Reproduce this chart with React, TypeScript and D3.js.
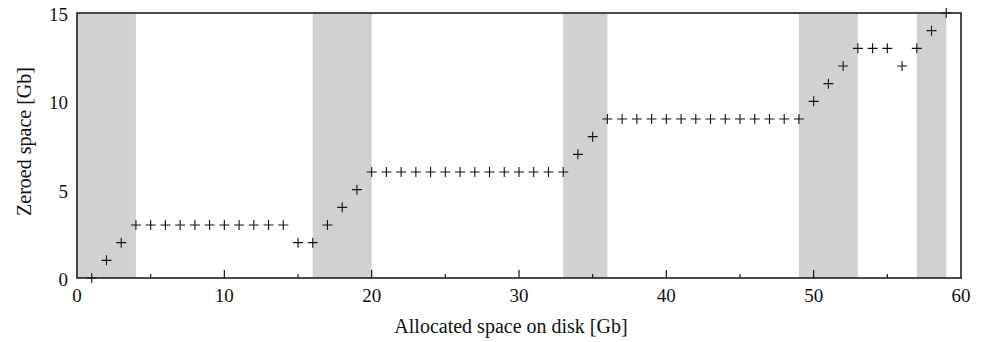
import * as d3 from 'd3';

// allocated space on disk [Gb] and zeroed space [Gb]
const allocated = [
  1, 2, 3, 4, 5, 6, 7, 8, 9, 10, 11, 12, 13, 14, 15, 16, 17, 18, 19, 20,
  21, 22, 23, 24, 25, 26, 27, 28, 29, 30, 31, 32, 33, 34, 35, 36, 37, 38, 39, 40,
  41, 42, 43, 44, 45, 46, 47, 48, 49, 50, 51, 52, 53, 54, 55, 56, 57, 58, 59,
];
const zeroed = [
  0, 1, 2, 3, 3, 3, 3, 3, 3, 3, 3, 3, 3, 3, 2, 2, 3, 4, 5, 6,
  6, 6, 6, 6, 6, 6, 6, 6, 6, 6, 6, 6, 6, 7, 8, 9, 9, 9, 9, 9,
  9, 9, 9, 9, 9, 9, 9, 9, 9, 10, 11, 12, 13, 13, 13, 12, 13, 14, 15,
];

// shaded intervals on the x axis
const bandStarts = [0, 16, 33, 49, 57];
const bandEnds = [4, 20, 36, 53, 59];

const xTicks = [0, 10, 20, 30, 40, 50, 60];
const xMinorTicks = [5, 15, 25, 35, 45, 55];
const yTicks = [0, 5, 10, 15];

const W = 983;
const H = 342;
const margin = { top: 13, right: 22, bottom: 64, left: 77 };

const font = 'Liberation Serif';
const ink = '#111';

const x = d3.scaleLinear().domain([0, 60]).range([margin.left, W - margin.right]);
const y = d3.scaleLinear().domain([0, 15]).range([H - margin.bottom, margin.top]);

const App = () => {
  const [x0, x1] = x.range();
  const [y0, y1] = y.range();
  const s = 5; // half-size of + marker

  return (
    <svg width={W} height={H} style={{ position: 'absolute', left: 0, top: 0 }}>
      <style>{`svg text { font-family: "Liberation Serif", "Times New Roman", serif !important; }`}</style>
      {bandStarts.map((b, i) => (
        <rect key={b} x={x(b)} y={y1} width={x(bandEnds[i]) - x(b)} height={y0 - y1} fill="#d0d1d0" />
      ))}

      {xTicks.slice(1, -1).map(t => (
        <line key={t} x1={x(t)} x2={x(t)} y1={y0} y2={y0 - 8} stroke={ink} strokeWidth={1.2} />
      ))}
      {xMinorTicks.map(t => (
        <line key={t} x1={x(t)} x2={x(t)} y1={y0} y2={y0 - 4} stroke={ink} strokeWidth={1.2} />
      ))}

      <rect x={x0} y={y1} width={x1 - x0} height={y0 - y1} fill="none" stroke={ink} strokeWidth={1.5} />

      {xTicks.map(t => (
        <text key={t} x={x(t)} y={302} textAnchor="middle" fill={ink} fontFamily={font} fontSize={19}>
          {t}
        </text>
      ))}
      {yTicks.map(t => (
        <text key={t} x={x0 - 9} y={y(t) + 8} textAnchor="end" fill={ink} fontFamily={font} fontSize={19}>
          {t}
        </text>
      ))}

      <text x={(x0 + x1) / 2 - 8} y={333} textAnchor="middle" fill={ink} fontFamily={font} fontSize={20}>
        Allocated space on disk [Gb]
      </text>
      <text
        transform={`translate(31,${(y0 + y1) / 2 - 4}) rotate(-90)`}
        textAnchor="middle"
        fill={ink}
        fontFamily={font}
        fontSize={20}
      >
        Zeroed space [Gb]
      </text>

      <g stroke={ink} strokeWidth={1.1}>
        {allocated.map((a, i) => {
          const cx = x(a);
          const cy = y(zeroed[i]);
          return <path key={a} d={`M${cx - s},${cy}H${cx + s}M${cx},${cy - s}V${cy + s}`} />;
        })}
      </g>
    </svg>
  );
};

export default App;
